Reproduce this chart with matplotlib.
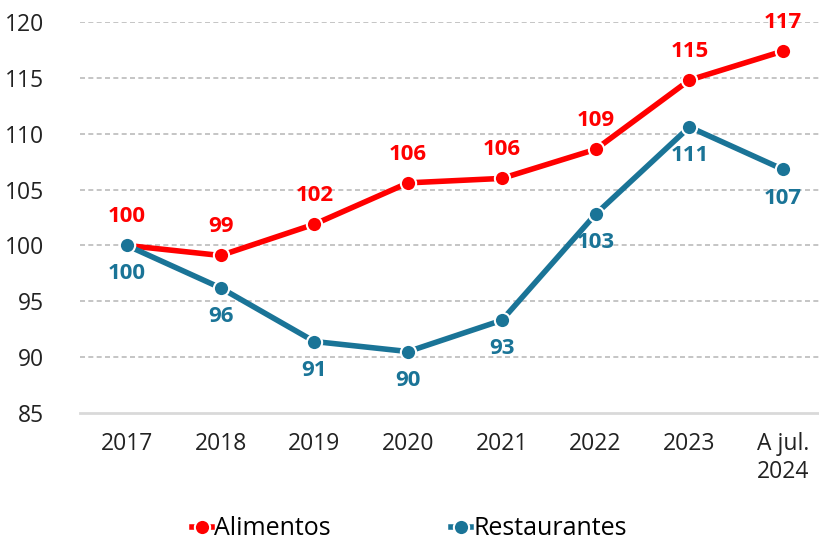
import numpy as np
import matplotlib.pyplot as plt

# Datos
anios = ['2017', '2018', '2019', '2020', '2021', '2022', '2023', 'A jul.\n2024']
alimentos = [100, 99.1, 101.9, 105.6, 106.0, 108.6, 114.8, 117.4]
restaurantes = [100, 96.2, 91.4, 90.5, 93.3, 102.8, 110.6, 106.8]

rojo = '#FF0000'
azul = '#1A7497'

plt.rcParams['font.family'] = ['Open Sans', 'DejaVu Sans']

fig = plt.figure(figsize=(8.19, 5.47), dpi=100)
ax = fig.add_axes([80 / 819, 134 / 547, 750 / 819, 391 / 547])

x = np.arange(len(anios))
ax.plot(x, alimentos, color=rojo, lw=4, marker='o', ms=11,
        mec='white', mew=1.5, label='Alimentos', zorder=3)
ax.plot(x, restaurantes, color=azul, lw=4, marker='o', ms=11,
        mec='white', mew=1.5, label='Restaurantes', zorder=3)

# Etiquetas de datos
for xi, v in zip(x, alimentos):
    ax.annotate(f'{v:.0f}', (xi, v), xytext=(0, 13), textcoords='offset points',
                ha='center', va='bottom', color=rojo, fontsize=16, fontweight='bold')
for xi, v in zip(x, restaurantes):
    ax.annotate(f'{v:.0f}', (xi, v), xytext=(0, -13), textcoords='offset points',
                ha='center', va='top', color=azul, fontsize=16, fontweight='bold')

ax.set_ylim(85, 120)
ax.set_yticks(range(85, 121, 5))
ax.set_xlim(-0.5, len(anios) - 0.5)
ax.set_xticks(x)
ax.set_xticklabels(anios)
ax.tick_params(axis='both', length=0, labelsize=16.5, colors='#222222')
ax.tick_params(axis='y', pad=26)
ax.tick_params(axis='x', pad=14)

ax.yaxis.grid(True, linestyle=(0, (3, 2)), color='#BBBBBB', lw=1.2)
ax.set_axisbelow(True)
for s in ['top', 'right', 'left']:
    ax.spines[s].set_visible(False)
ax.spines['bottom'].set_color('#D9D9D9')
ax.spines['bottom'].set_linewidth(2)
ax.yaxis.get_gridlines()[0].set_visible(False)

fig.legend(loc='center', bbox_to_anchor=(0.5, 0.033), ncol=2, frameon=False,
           fontsize=18, handlelength=0.8, handletextpad=0.1, columnspacing=4.8)

fig.savefig('out.png', dpi=100)
